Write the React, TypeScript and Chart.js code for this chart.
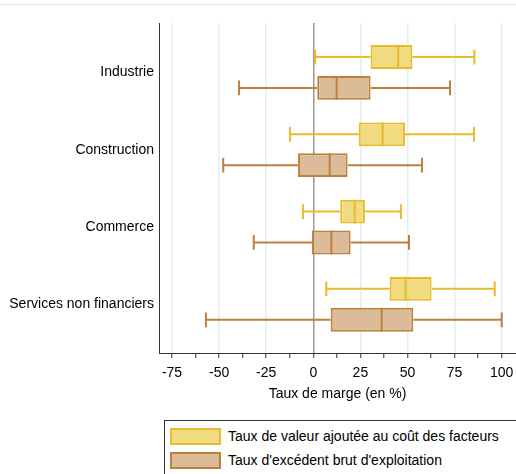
import React, { useEffect, useRef } from "react";
import { Chart, registerables } from "chart.js";

Chart.register(...registerables);

const categories = ["Industrie", "Construction", "Commerce", "Services non financiers"];
const seriesNames = [
  "Taux de valeur ajoutée au coût des facteurs",
  "Taux d'excédent brut d'exploitation",
];
// [min, q1, median, q3, max] per category
const valeurAjoutee = [
  [1, 30.4, 45.1, 52.6, 85.5],
  [-12.4, 24.1, 36.8, 48.7, 85.3],
  [-5.5, 14.3, 22, 27.4, 46.5],
  [6.9, 40.5, 49, 62.8, 96.3],
];
const excedentBrut = [
  [-39.4, 2.1, 12.4, 30.4, 72.6],
  [-47.8, -8.1, 8.7, 18.2, 57.7],
  [-31.6, -0.7, 9.6, 19.8, 50.8],
  [-57, 9.2, 36.3, 53.1, 100],
];
const xTickLabels = [-75, -50, -25, 0, 25, 50, 75, 100];
const xTitle = "Taux de marge (en %)";

const fills = ["rgb(241,219,128)", "rgb(220,188,152)"];
const borders = ["rgb(231,187,44)", "rgb(187,129,62)"];
const FONT = "'Liberation Sans', Arial, sans-serif";

const stats = [valeurAjoutee, excedentBrut];

const boxPlugin = {
  id: "boxWhiskers",
  beforeDatasetsDraw(chart: any) {
    const ctx = chart.ctx;
    const xs = chart.scales.x;
    stats.forEach((series, d) => {
      const meta = chart.getDatasetMeta(d);
      series.forEach((s, i) => {
        const el = meta.data[i];
        if (!el) return;
        const y = el.y;
        const cap = el.height * 0.62;
        const pMin = xs.getPixelForValue(s[0]);
        const pQ1 = xs.getPixelForValue(s[1]);
        const pQ3 = xs.getPixelForValue(s[3]);
        const pMax = xs.getPixelForValue(s[4]);
        ctx.save();
        ctx.strokeStyle = borders[d];
        ctx.lineWidth = 2;
        ctx.beginPath();
        ctx.moveTo(pMin, y);
        ctx.lineTo(pQ1, y);
        ctx.moveTo(pQ3, y);
        ctx.lineTo(pMax, y);
        ctx.moveTo(pMin, y - cap / 2);
        ctx.lineTo(pMin, y + cap / 2);
        ctx.moveTo(pMax, y - cap / 2);
        ctx.lineTo(pMax, y + cap / 2);
        ctx.stroke();
        ctx.restore();
      });
    });
  },
  afterDatasetsDraw(chart: any) {
    const ctx = chart.ctx;
    const xs = chart.scales.x;
    stats.forEach((series, d) => {
      const meta = chart.getDatasetMeta(d);
      series.forEach((s, i) => {
        const el = meta.data[i];
        if (!el) return;
        const y = el.y;
        const h = el.height;
        const pMed = xs.getPixelForValue(s[2]);
        ctx.save();
        ctx.strokeStyle = borders[d];
        ctx.lineWidth = 2;
        ctx.beginPath();
        ctx.moveTo(pMed, y - h / 2);
        ctx.lineTo(pMed, y + h / 2);
        ctx.stroke();
        ctx.restore();
      });
    });
  },
};

export default function App() {
  const ref = useRef<HTMLCanvasElement | null>(null);
  useEffect(() => {
    if (!ref.current) return;
    const chart = new Chart(ref.current, {
      type: "bar",
      data: {
        datasets: stats.map((series, d) => ({
          label: seriesNames[d],
          data: series.map((s, i) => ({ y: i, x: [s[1], s[3]] })),
          backgroundColor: fills[d],
          borderColor: borders[d],
          borderWidth: 2,
          borderSkipped: false,
          categoryPercentage: 0.8,
          barPercentage: 0.77,
        })) as any,
      },
      plugins: [boxPlugin],
      options: {
        animation: false,
        responsive: false,
        indexAxis: "y",
        layout: { padding: { left: 0, top: 23, right: 0, bottom: 0 } },
        plugins: { legend: { display: false }, tooltip: { enabled: false } },
        scales: {
          y: {
            type: "linear",
            reverse: true,
            offset: false,
            min: -0.64,
            max: 3.63,
            afterBuildTicks: (scale: any) => {
              scale.ticks = categories.map((_, i) => ({ value: i }));
            },
            afterFit: (scale: any) => {
              scale.width = 159;
              scale.paddingTop = 0;
              scale.paddingBottom = 0;
            },
            ticks: {
              callback: (v: any) => categories[v] ?? "",
              color: "#000",
              padding: 5,
              font: { family: FONT, size: 14 },
            },
            grid: { drawOnChartArea: false, drawTicks: false, offset: false },
            border: { display: true, color: "#333", width: 1 },
          },
          x: {
            type: "linear",
            min: -81.9,
            max: 107.6,
            afterBuildTicks: (scale: any) => {
              const t: any[] = [];
              for (let v = -75; v <= 100; v += 12.5) t.push({ value: v });
              scale.ticks = t;
            },
            afterFit: (scale: any) => {
              scale.height = 50;
              scale.paddingLeft = 0;
              scale.paddingRight = 0;
            },
            ticks: {
              autoSkip: false,
              maxRotation: 0,
              callback: (v: any) => (xTickLabels.includes(v) ? String(v) : ""),
              color: "#000",
              padding: 7,
              font: { family: FONT, size: 14 },
            },
            grid: {
              color: (c: any) => {
                const v = c.tick?.value;
                if (v === 0) return "#999";
                return xTickLabels.includes(v) ? "#e2eef2" : "rgba(0,0,0,0)";
              },
              lineWidth: 1.5,
              tickColor: "#333",
              tickLength: 5,
              tickWidth: 1,
            } as any,
            border: { display: true, color: "#333", width: 1 },
            title: {
              display: true,
              text: xTitle,
              color: "#000",
              padding: { top: 0, bottom: 0 },
              font: { family: FONT, size: 14 },
            },
          },
        },
      } as any,
    });
    return () => chart.destroy();
  }, []);

  return (
    <div style={{ position: "fixed", left: 0, top: 0, width: 516, height: 474, background: "#fff", overflow: "hidden" }}>
      <div style={{ position: "absolute", left: 0, top: 4, width: 516, height: 1, background: "#e3ecef" }} />
      <canvas ref={ref} width={516} height={403} style={{ position: "absolute", left: 0, top: 0 }} />
      <div
        style={{
          position: "absolute",
          left: 164,
          top: 420,
          width: 400,
          height: 100,
          border: "1px solid #333",
          fontFamily: FONT,
          fontSize: 14,
          color: "#000",
        }}
      >
        {seriesNames.map((n, d) => (
          <div key={n} style={{ position: "absolute", left: 5, top: 7 + d * 24, height: 17, display: "flex", alignItems: "center" }}>
            <div style={{ width: 47, height: 13, background: fills[d], border: `2px solid ${borders[d]}` }} />
            <span style={{ marginLeft: 7, whiteSpace: "nowrap", lineHeight: "17px" }}>{n}</span>
          </div>
        ))}
      </div>
    </div>
  );
}
